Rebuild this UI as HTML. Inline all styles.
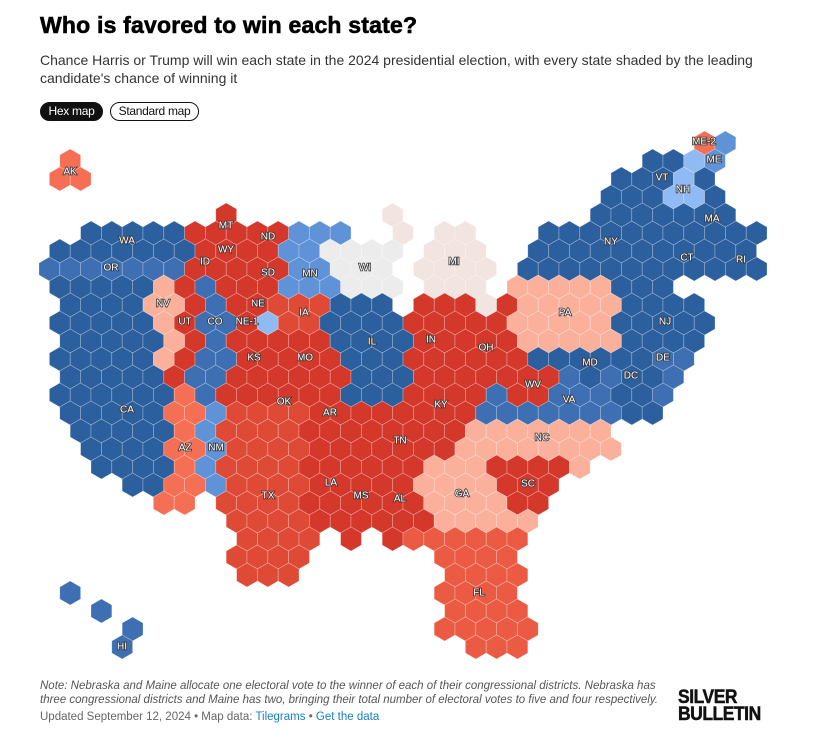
<!DOCTYPE html>
<html><head><meta charset="utf-8">
<style>
html,body{margin:0;padding:0;background:#fff;}
body{width:830px;height:739px;position:relative;overflow:hidden;font-family:"Liberation Sans",sans-serif;}
.t{position:absolute;left:40px;top:12px;font-size:23px;font-weight:bold;color:#000;letter-spacing:0.2px;-webkit-text-stroke:0.6px #000;}
.sub{position:absolute;left:40px;top:51px;width:760px;font-size:14px;line-height:18px;color:#333;}
.btn{position:absolute;top:102px;height:19px;line-height:17px;font-size:12px;border-radius:10px;box-sizing:border-box;white-space:nowrap;text-align:center;letter-spacing:-0.3px;}
.b1{left:40px;width:63px;background:#111;color:#fff;border:1px solid #111;}
.b2{left:110px;width:89px;background:#fff;color:#111;border:1px solid #111;}
.note{position:absolute;left:40px;top:679px;width:630px;font-size:11.5px;line-height:14px;color:#555;font-style:italic;}
.upd{position:absolute;left:40px;top:711px;font-size:11.5px;color:#666;}
.upd a{color:#1a7fc1;text-decoration:none;}
.logo{position:absolute;left:678px;top:689px;font-size:19px;line-height:17px;font-weight:bold;color:#111;letter-spacing:-0.5px;transform:scaleX(0.92);transform-origin:left;-webkit-text-stroke:0.5px #111;}
svg{position:absolute;left:0;top:0;}
svg text{font-family:"Liberation Sans",sans-serif;font-size:10px;fill:#fff;stroke:#333;stroke-width:1.6px;paint-order:stroke;text-anchor:middle;dominant-baseline:central;}
</style></head><body>
<div class="t">Who is favored to win each state?</div>
<div class="sub">Chance Harris or Trump will win each state in the 2024 presidential election, with every state shaded by the leading candidate's chance of winning it</div>
<div class="btn b1">Hex map</div>
<div class="btn b2">Standard map</div>
<svg id="m" width="830" height="739" viewBox="0 0 830 739"></svg>
<div class="note">Note: Nebraska and Maine allocate one electoral vote to the winner of each of their congressional districts. Nebraska has three congressional districts and Maine has two, bringing their total number of electoral votes to five and four respectively.</div>
<div class="upd">Updated September 12, 2024 • Map data: <a>Tilegrams</a> • <a>Get the data</a></div>
<div class="logo">SILVER<br>BULLETIN</div>
<script>
var C={B:"#2b5f9e",b:"#3d6fb2",m:"#6092d8",n:"#8fbaf3",g:"#ececec",p:"#f2e4e0",s:"#fbb09b",o:"#f56f55",R:"#d4382b",r:"#df4a37",f:"#eb5b43"};
var rows={
"-5":"32o 33m",
"-4":"1o 29-30B 31n 32m",
"-3":"1-2o 28-30B 31n 32B",
"-2":"27-29B 30-31n 32B",
"-1":"9R 17p 27-33B",
"0":"2-6B 7-11R 12-14m 17p 19-20p 24-34B",
"1":"1-7B 8-11R 12-13m 14-17g 19-21p 24-34B",
"2":"0-6b 7-11R 12-13m 14-16g 18-21p 23-34B",
"3":"1-5B 6s 7R 8b 9-11R 12-14m 15-17g 19-21p 23-27s 28-30B",
"4":"1-4B 5-6s 7R 8b 9-10R 11-13r 14-16B 18-20R 21p 22R 23-27s 28-31B",
"5":"1-5B 6s 7R 8-9b 10R 11n 12-13r 14-17B 18-22R 23-27s 28-32B",
"6":"1-5B 6s 7R 8b 9-13R 14-17B 18-22R 23-27s 28-31B",
"7":"1-5B 6s 7R 8-9b 10-14R 15-17B 18-23R 24-29B 30-31b",
"8":"1-5B 6R 7-8b 9-14R 15-17B 18-24R 25b 26B 27b 28-29B 30b",
"9":"1-6B 7o 8b 9-14R 15-17B 18-21R 22b 23-24R 25-27b 28-29B 30b",
"10":"1-5B 6-7o 8m 9-12r 13-20R 21-27b 28-29B",
"11":"2-6B 7o 8m 9-12r 13-20R 21-27s",
"12":"2-5B 6-7o 8m 9-12r 13-19R 20-27s",
"13":"3-6B 7o 8m 9-12r 13-18R 19-21s 22-25R 26s",
"14":"4-5B 6-7o 8m 9-12r 13-17R 18-21s 22-24R",
"15":"6-7o 9-12r 13-18R 19-22s 23-24R",
"16":"9-12r 13-18R 19-23s",
"17":"10-13r 15R 17R 18-23f",
"18":"9-12r 19-22f",
"19":"10-12r 20-23f",
"20":"1b 19-22f",
"21":"3b 20-23f",
"22":"4b 19-23f",
"23":"4b 21-23f"};
var ns="http://www.w3.org/2000/svg",svg=document.getElementById("m");
var pts="0,-12 10.4,-6 10.4,6 0,12 -10.4,6 -10.4,-6";
for(var k in rows){var kk=+k;var y=233+18*kk;var odd=Math.abs(kk)%2==1;
rows[k].split(" ").forEach(function(t){var m=t.match(/^(\d+)(?:-(\d+))?(\w)$/);var a=+m[1],b=m[2]?+m[2]:a;
for(var j=a;j<=b;j++){var x=(odd?39:49.4)+20.8*j;var p=document.createElementNS(ns,"polygon");
p.setAttribute("points",pts);p.setAttribute("transform","translate("+x.toFixed(1)+","+y+")");
p.setAttribute("fill",C[m[3]]);p.setAttribute("stroke","rgba(255,255,255,0.35)");p.setAttribute("stroke-width","0.7");svg.appendChild(p);}});}
var L=[["AK",70,172],["MT",226,226],["WA",127,241],["ND",268,237],["WY",226,250],["ID",205,262],["OR",111,268],["SD",268,273],["MN",310,274],["WI",365,268],["MI",454,262],["NY",611,242],["MA",712,219],["CT",687,258],["RI",741,260],["VT",662,178],["NH",683,190],["ME",714,160],["ME-2",704,142],["NV",163,304],["NE",258,304],["IA",304,313],["UT",185,322],["CO",215,322],["NE-1",247,322],["IL",372,342],["IN",431,340],["OH",486,348],["PA",565,313],["NJ",665,322],["KS",254,358],["MO",305,358],["MD",590,363],["DE",663,358],["DC",631,376],["WV",533,385],["VA",569,400],["KY",441,405],["OK",284,402],["CA",127,410],["AR",330,413],["TN",400,441],["NC",542,438],["AZ",185,448],["NM",216,448],["LA",331,483],["MS",361,496],["AL",400,499],["SC",528,484],["GA",462,494],["TX",268,496],["FL",479,593],["HI",122,647]];
L.forEach(function(l){var t=document.createElementNS(ns,"text");t.setAttribute("x",l[1]);t.setAttribute("y",l[2]);t.textContent=l[0];svg.appendChild(t);});
</script>
</body></html>
